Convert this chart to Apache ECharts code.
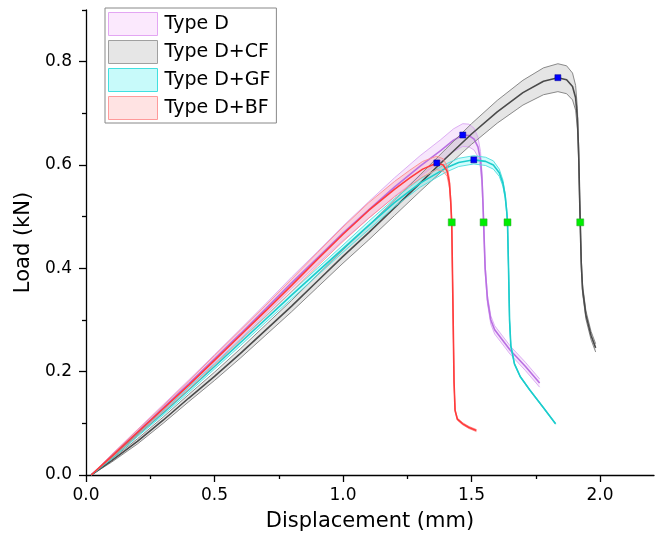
<!DOCTYPE html>
<html>
<head>
<meta charset="utf-8">
<script src="https://cdn.jsdelivr.net/npm/echarts@6/dist/echarts.min.js"></script>
<style>
  html, body { margin: 0; padding: 0; background: #fff; }
  #chart { width: 659px; height: 554px; }
</style>
</head>
<body>
<div id="chart"></div>
<script>
// curve data: mean load and band half-width
const names = ['Type D', 'Type D+CF', 'Type D+GF', 'Type D+BF']

const dX = [0.02, 0.1, 0.2, 0.3, 0.4, 0.5, 0.6, 0.7, 0.8, 0.9, 1.0, 1.1, 1.2, 1.3, 1.38, 1.43, 1.466, 1.49, 1.51, 1.525, 1.535, 1.541, 1.545, 1.547, 1.553, 1.562, 1.575, 1.59, 1.65, 1.71, 1.765]
const dY = [0, 0.037, 0.083, 0.13, 0.177, 0.225, 0.273, 0.322, 0.372, 0.42, 0.468, 0.513, 0.557, 0.598, 0.628, 0.648, 0.658, 0.657, 0.65, 0.635, 0.61, 0.57, 0.52, 0.489, 0.4, 0.34, 0.3, 0.281, 0.242, 0.21, 0.178]
const dSd = [0, 0.003, 0.005, 0.006, 0.007, 0.008, 0.009, 0.01, 0.011, 0.012, 0.014, 0.016, 0.018, 0.02, 0.021, 0.022, 0.022, 0.022, 0.021, 0.019, 0.016, 0.013, 0.011, 0.01, 0.008, 0.008, 0.008, 0.008, 0.008, 0.008, 0.008]

const cX = [0.02, 0.1, 0.2, 0.3, 0.4, 0.5, 0.6, 0.7, 0.8, 0.9, 1.0, 1.1, 1.2, 1.3, 1.4, 1.5, 1.6, 1.7, 1.78, 1.836, 1.87, 1.893, 1.905, 1.912, 1.917, 1.92, 1.923, 1.927, 1.932, 1.945, 1.965, 1.983]
const cY = [0, 0.028, 0.065, 0.106, 0.149, 0.191, 0.235, 0.281, 0.327, 0.375, 0.423, 0.469, 0.517, 0.565, 0.613, 0.66, 0.703, 0.74, 0.762, 0.769, 0.765, 0.752, 0.73, 0.69, 0.62, 0.55, 0.489, 0.41, 0.36, 0.31, 0.27, 0.246]
const cSd = [0, 0.003, 0.005, 0.006, 0.007, 0.008, 0.009, 0.01, 0.011, 0.012, 0.013, 0.014, 0.015, 0.016, 0.018, 0.02, 0.022, 0.024, 0.026, 0.027, 0.027, 0.026, 0.024, 0.02, 0.015, 0.012, 0.01, 0.009, 0.008, 0.008, 0.008, 0.008]

const gX = [0.02, 0.1, 0.2, 0.3, 0.4, 0.5, 0.6, 0.7, 0.8, 0.9, 1.0, 1.1, 1.2, 1.3, 1.4, 1.45, 1.509, 1.555, 1.585, 1.608, 1.622, 1.631, 1.637, 1.64, 1.644, 1.648, 1.653, 1.667, 1.69, 1.726, 1.78, 1.827]
const gY = [0, 0.033, 0.077, 0.12, 0.165, 0.21, 0.256, 0.302, 0.348, 0.393, 0.438, 0.483, 0.527, 0.565, 0.594, 0.605, 0.61, 0.607, 0.6, 0.585, 0.565, 0.54, 0.51, 0.489, 0.4, 0.3, 0.25, 0.215, 0.19, 0.165, 0.13, 0.099]
const gSd = [0, 0.002, 0.003, 0.004, 0.005, 0.005, 0.006, 0.006, 0.007, 0.007, 0.007, 0.008, 0.008, 0.008, 0.008, 0.008, 0.008, 0.008, 0.008, 0.007, 0.006, 0.005, 0.004, 0.003, 0.002, 0.001, 0.001, 0.001, 0.001, 0.001, 0.001, 0.001]

const bX = [0.02, 0.1, 0.2, 0.3, 0.4, 0.5, 0.6, 0.7, 0.8, 0.9, 1.0, 1.1, 1.2, 1.26, 1.31, 1.365, 1.39, 1.405, 1.414, 1.419, 1.423, 1.428, 1.432, 1.436, 1.445, 1.466, 1.49, 1.519]
const bY = [0, 0.036, 0.082, 0.128, 0.174, 0.222, 0.27, 0.318, 0.367, 0.417, 0.466, 0.512, 0.553, 0.575, 0.592, 0.604, 0.6, 0.588, 0.565, 0.53, 0.489, 0.32, 0.18, 0.125, 0.108, 0.099, 0.092, 0.086]
const bSd = [0, 0.003, 0.005, 0.006, 0.008, 0.009, 0.01, 0.011, 0.012, 0.013, 0.014, 0.015, 0.015, 0.015, 0.015, 0.013, 0.012, 0.01, 0.009, 0.007, 0.006, 0.003, 0.002, 0.002, 0.002, 0.002, 0.002, 0.002]

// blue = peak load, green = failure point
const peakX = [1.466, 1.836, 1.509, 1.365]
const peakY = [0.658, 0.769, 0.61, 0.604]
const failX = [1.547, 1.923, 1.64, 1.423]
const failY = [0.489, 0.489, 0.489, 0.489]

const xMajor = [0, 0.5, 1.0, 1.5, 2.0]
const xMinor = [0.25, 0.75, 1.25, 1.75]
const yMajor = [0, 0.2, 0.4, 0.6, 0.8]
const yMinor = [0.1, 0.3, 0.5, 0.7, 0.9]

const curves = [
  { x: dX, y: dY, sd: dSd, line: '#b96fe2', edge: '#d9a6f2', fill: 'rgba(225,160,245,0.25)', legFill: '#fbe9fd', legBorder: '#e3a6f3' },
  { x: cX, y: cY, sd: cSd, line: '#4a4a4a', edge: '#7d7d7d', fill: 'rgba(150,150,150,0.25)', legFill: '#e6e6e6', legBorder: '#a0a0a0' },
  { x: gX, y: gY, sd: gSd, line: '#1ccccc', edge: '#4ddede', fill: 'rgba(0,240,240,0.18)', legFill: '#c8fafa', legBorder: '#40e0e0' },
  { x: bX, y: bY, sd: bSd, line: '#ff3b3b', edge: '#ff8a8a', fill: 'rgba(255,120,120,0.2)', legFill: '#ffe3e3', legBorder: '#ff9a9a' }
]

const font = 'DejaVu Sans, Arial, sans-serif'

const series = []
curves.forEach((c, k) => {
  const upper = c.x.map((x, i) => [x, c.y[i] + c.sd[i]])
  const lower = c.x.map((x, i) => [x, c.y[i] - c.sd[i]])
  series.push({
    name: names[k],
    type: 'custom',
    silent: true,
    data: [[c.x[0], c.y[0]]],
    itemStyle: { color: c.legFill },
    renderItem: function (params, api) {
      const pts = []
      upper.forEach(p => pts.push(api.coord(p)))
      lower.slice().reverse().forEach(p => pts.push(api.coord(p)))
      return { type: 'polygon', shape: { points: pts }, style: { fill: c.fill } }
    }
  })
  const lineBase = { type: 'line', showSymbol: false, silent: true }
  series.push(Object.assign({ name: names[k] + ' upper', data: upper, lineStyle: { color: c.edge, width: 0.9 } }, lineBase))
  series.push(Object.assign({ name: names[k] + ' lower', data: lower, lineStyle: { color: c.edge, width: 0.9 } }, lineBase))
  series.push(Object.assign({
    name: names[k] + ' mean',
    data: c.x.map((x, i) => [x, c.y[i]]),
    lineStyle: { color: c.line, width: 1.6 }
  }, lineBase))
})

series.push({
  name: 'peak', type: 'scatter', symbol: 'rect', symbolSize: 6, z: 5,
  data: peakX.map((x, i) => [x, peakY[i]]),
  itemStyle: { color: '#0000ff', borderColor: '#000088', borderWidth: 0.5, opacity: 1 }
})
series.push({
  name: 'fail', type: 'scatter', symbol: 'rect', symbolSize: 7, z: 5,
  data: failX.map((x, i) => [x, failY[i]]),
  itemStyle: { color: '#00ee00', borderColor: '#30a030', borderWidth: 0.5, opacity: 1 }
})

const chart = echarts.init(document.getElementById('chart'))

const option = {
  animation: false,
  backgroundColor: '#fff',
  grid: { left: 86, right: 5, top: 10, bottom: 79 },
  legend: {
    orient: 'vertical',
    left: 105,
    top: 8,
    icon: 'rect',
    itemWidth: 49,
    itemHeight: 23,
    itemGap: 4,
    padding: [4, 6, 3, 3],
    backgroundColor: '#fff',
    borderColor: '#888',
    borderWidth: 1,
    textStyle: { color: '#000', fontSize: 19, fontFamily: font, padding: [0, 0, 0, 2] },
    data: names.map((n, k) => ({
      name: n,
      itemStyle: { color: curves[k].legFill, borderColor: curves[k].legBorder, borderWidth: 1 }
    }))
  },
  xAxis: [{
    type: 'value', min: 0, max: 2.21,
    name: 'Displacement (mm)', nameLocation: 'middle', nameGap: 36,
    nameTextStyle: { color: '#000', fontSize: 21, fontFamily: font },
    axisLine: { show: true, onZero: false, lineStyle: { color: '#000', width: 1.3 } },
    axisTick: { show: true, customValues: xMajor, length: 7, lineStyle: { color: '#000', width: 1.3 } },
    axisLabel: { customValues: xMajor, margin: 12, color: '#000', fontSize: 17, fontFamily: font, formatter: v => v.toFixed(1) },
    splitLine: { show: false }
  }, {
    type: 'value', min: 0, max: 2.21, position: 'bottom',
    axisLine: { show: false },
    axisTick: { show: true, customValues: xMinor, length: 4, lineStyle: { color: '#000', width: 1.3 } },
    axisLabel: { show: false },
    splitLine: { show: false }
  }],
  yAxis: [{
    type: 'value', min: 0, max: 0.9,
    name: 'Load (kN)', nameLocation: 'middle', nameGap: 46,
    nameTextStyle: { color: '#000', fontSize: 21, fontFamily: font },
    axisLine: { show: true, onZero: false, lineStyle: { color: '#000', width: 1.3 } },
    axisTick: { show: true, customValues: yMajor, length: 7, lineStyle: { color: '#000', width: 1.3 } },
    axisLabel: { customValues: yMajor, margin: 14, color: '#000', fontSize: 17, fontFamily: font, formatter: v => v.toFixed(1) },
    splitLine: { show: false }
  }, {
    type: 'value', min: 0, max: 0.9, position: 'left',
    axisLine: { show: false },
    axisTick: { show: true, customValues: yMinor, length: 4, lineStyle: { color: '#000', width: 1.3 } },
    axisLabel: { show: false },
    splitLine: { show: false }
  }],
  series: series
}

option && chart.setOption(option)
</script>
</body>
</html>
